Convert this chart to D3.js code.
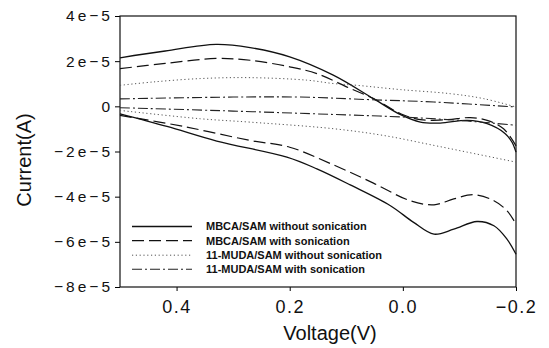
<!DOCTYPE html>
<html>
<head>
<meta charset="utf-8">
<script src="https://cdn.jsdelivr.net/npm/d3@7"></script>
<style>
  body { margin: 0; background: #fff; }
  svg { display: block; }
</style>
</head>
<body>
<div id="vis"></div>
<script>
const WIDTH = 549;
const HEIGHT = 348;

const margin = { top: 16, right: 33, bottom: 61, left: 120 };

// voltage (V) / current (A), two branches per sweep
const mbcaNoSonUpper = [[0.5, 2.15e-5], [0.42, 2.45e-5], [0.33, 2.74e-5], [0.27, 2.6e-5], [0.2, 2.19e-5],
  [0.123, 1.38e-5], [0.052, 0.34e-5], [0.004, -0.37e-5], [-0.031, -0.7e-5], [-0.066, -0.74e-5],
  [-0.114, -0.62e-5], [-0.149, -0.77e-5], [-0.181, -1.21e-5], [-0.193, -1.59e-5], [-0.2, -2.03e-5]];
const mbcaNoSonLower = [[0.5, -0.33e-5], [0.417, -0.89e-5], [0.329, -1.54e-5], [0.205, -2.25e-5],
  [0.152, -2.77e-5], [0.093, -3.48e-5], [0.022, -4.4e-5], [-0.019, -5.14e-5], [-0.055, -5.66e-5],
  [-0.09, -5.44e-5], [-0.131, -5.1e-5], [-0.161, -5.29e-5], [-0.184, -5.88e-5], [-0.2, -6.55e-5]];

const mbcaSonUpper = [[0.5, 1.67e-5], [0.42, 1.9e-5], [0.33, 2.12e-5], [0.27, 2.04e-5], [0.2, 1.75e-5],
  [0.152, 1.45e-5], [0.093, 0.79e-5], [0.046, 0.27e-5], [0.004, -0.33e-5], [-0.031, -0.59e-5],
  [-0.078, -0.59e-5], [-0.119, -0.5e-5], [-0.149, -0.62e-5], [-0.178, -0.99e-5], [-0.2, -1.75e-5]];
const mbcaSonLower = [[0.5, -0.4e-5], [0.388, -0.89e-5], [0.27, -1.51e-5], [0.2, -1.81e-5],
  [0.122, -2.6e-5], [0.052, -3.4e-5], [-0.013, -4.18e-5], [-0.055, -4.36e-5], [-0.09, -4.1e-5],
  [-0.125, -3.91e-5], [-0.161, -4.18e-5], [-0.184, -4.62e-5], [-0.2, -5.21e-5]];

const mudaNoSonUpper = [[0.5, 0.93e-5], [0.441, 1.08e-5], [0.358, 1.23e-5], [0.27, 1.27e-5],
  [0.17, 1.16e-5], [0.123, 1.01e-5], [0.081, 0.93e-5], [0.004, 0.74e-5], [-0.084, 0.56e-5],
  [-0.143, 0.34e-5], [-0.2, -0.03e-5]];
const mudaNoSonLower = [[0.5, -0.18e-5], [0.358, -0.55e-5], [0.27, -0.7e-5], [0.123, -0.99e-5],
  [0.034, -1.29e-5], [-0.055, -1.73e-5], [-0.114, -2.03e-5], [-0.2, -2.47e-5]];

const mudaSonUpper = [[0.5, 0.33e-5], [0.3, 0.41e-5], [0.181, 0.41e-5], [0.063, 0.3e-5],
  [-0.055, 0.19e-5], [-0.2, -0.03e-5]];
const mudaSonLower = [[0.5, -0.06e-5], [0.3, -0.21e-5], [0.123, -0.36e-5], [0.004, -0.47e-5],
  [-0.114, -0.65e-5], [-0.2, -0.84e-5]];

const seriesNames = ["MBCA/SAM without sonication", "MBCA/SAM with sonication",
  "11-MUDA/SAM without sonication", "11-MUDA/SAM with sonication"];
const seriesBranches = [[mbcaNoSonUpper, mbcaNoSonLower], [mbcaSonUpper, mbcaSonLower],
  [mudaNoSonUpper, mudaNoSonLower], [mudaSonUpper, mudaSonLower]];

const xTicks = [0.4, 0.2, 0.0, -0.2];
const xTickLabels = ["0.4", "0.2", "0.0", "\u22120.2"];
const yTicks = [4e-5, 2e-5, 0, -2e-5, -4e-5, -6e-5, -8e-5];
const yTickLabels = ["4e\u22125", "2e\u22125", "0", "\u22122e\u22125", "\u22124e\u22125", "\u22126e\u22125", "\u22128e\u22125"];

const styles = [
  { dash: null, width: 1.3, color: "#111" },
  { dash: "12,5", width: 1.2, color: "#111" },
  { dash: "1.2,2.6", width: 1, color: "#555" },
  { dash: "10,3,2,3", width: 1.1, color: "#222" }
];

const SVG = d3.select("#vis").append("svg").attr("width", WIDTH).attr("height", HEIGHT)
  .style("font-family", "'Liberation Sans', Arial, sans-serif");

const w = WIDTH - margin.left - margin.right;
const h = HEIGHT - margin.top - margin.bottom;

const escalaV = d3.scaleLinear().domain([0.5, -0.2]).range([0, w]);
const escalaI = d3.scaleLinear().domain([-8e-5, 4e-5]).range([h, 0]);

const g = SVG.append("g").attr("transform", "translate(" + margin.left + "," + margin.top + ")");

const ejeX = d3.axisBottom(escalaV).tickValues(xTicks)
  .tickFormat((d, i) => xTickLabels[i]).tickSize(4).tickPadding(9);
const ejeY = d3.axisLeft(escalaI).tickValues(yTicks)
  .tickFormat((d, i) => yTickLabels[i]).tickSize(5).tickPadding(2);

const gx = g.append("g").attr("transform", "translate(0," + h + ")").call(ejeX);
gx.select(".domain").remove();
gx.selectAll("text").attr("font-size", 18).attr("fill", "#111").style("letter-spacing", "1.5px");

const gy = g.append("g").call(ejeY);
gy.select(".domain").remove();
gy.selectAll("text").attr("font-size", 15.5).attr("fill", "#111").style("letter-spacing", "3px");

// frame
g.append("rect").attr("x", 0).attr("y", 0).attr("width", w).attr("height", h)
  .attr("fill", "none").attr("stroke", "#111").attr("stroke-width", 1.2);

const line = d3.line()
  .x(d => escalaV(d[0]))
  .y(d => escalaI(d[1]))
  .curve(d3.curveCatmullRom.alpha(0.5));

seriesBranches.forEach((branches, i) => {
  branches.forEach(b => {
    g.append("path")
      .attr("d", line(b))
      .attr("fill", "none")
      .attr("stroke", styles[i].color)
      .attr("stroke-width", styles[i].width)
      .attr("stroke-dasharray", styles[i].dash);
  });
});

// legend
const legendRows = [226.5, 240.7, 255.2, 269.3];
const legend = SVG.append("g");
seriesNames.forEach((name, i) => {
  legend.append("line")
    .attr("x1", 132).attr("x2", 192)
    .attr("y1", legendRows[i]).attr("y2", legendRows[i])
    .attr("stroke", styles[i].color)
    .attr("stroke-width", styles[i].width)
    .attr("stroke-dasharray", styles[i].dash);
  legend.append("text")
    .attr("x", 206).attr("y", legendRows[i]).attr("dy", "0.36em")
    .attr("font-size", 11).attr("font-weight", "bold").attr("fill", "#111")
    .text(name);
});

// axis titles
SVG.append("text").attr("x", 330).attr("y", 340).attr("text-anchor", "middle")
  .attr("font-size", 20).attr("fill", "#111").text("Voltage(V)");
SVG.append("text").attr("transform", "translate(31,160) rotate(-90)").attr("text-anchor", "middle")
  .attr("font-size", 20).attr("fill", "#111").text("Current(A)");
</script>
</body>
</html>
